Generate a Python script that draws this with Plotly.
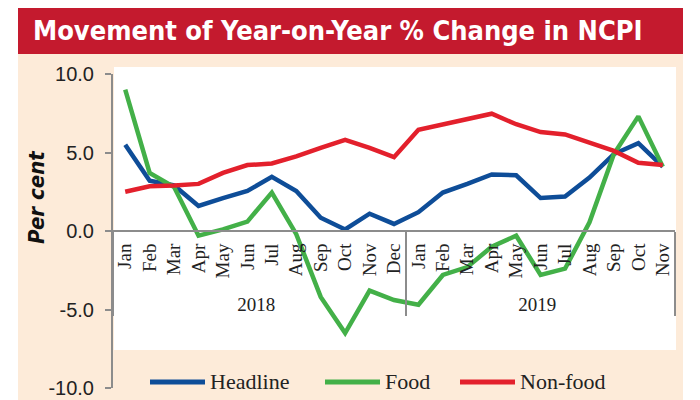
import plotly.graph_objects as go

years = ["2018"] * 12 + ["2019"] * 11
months = ["Jan", "Feb", "Mar", "Apr", "May", "Jun", "Jul", "Aug", "Sep", "Oct", "Nov", "Dec",
          "Jan", "Feb", "Mar", "Apr", "May", "Jun", "Jul", "Aug", "Sep", "Oct", "Nov"]

headline = [5.5, 3.2, 2.9, 1.6, 2.1, 2.55, 3.45, 2.55, 0.85, 0.1, 1.1, 0.45,
            1.2, 2.45, 3.0, 3.6, 3.55, 2.1, 2.2, 3.4, 4.9, 5.6, 4.1]
food = [9.0, 3.7, 2.8, -0.3, 0.1, 0.6, 2.45, -0.2, -4.2, -6.5, -3.8, -4.4,
        -4.7, -2.8, -2.3, -1.0, -0.3, -2.8, -2.4, 0.55, 4.9, 7.3, 4.1]
nonfood = [2.5, 2.85, 2.9, 3.0, 3.7, 4.2, 4.3, 4.75, 5.3, 5.8, 5.3, 4.7,
           6.45, 6.8, 7.1, 7.47, 6.8, 6.3, 6.15, 5.6, 5.1, 4.35, 4.2]

series_names = ["Headline", "Food", "Non-food"]

y_ticks = [10, 5, 0, -5, -10]
y_tick_labels = ["10.0", "5.0", "0.0", "-5.0", "-10.0"]

title_text = "Movement of Year-on-Year % Change in NCPI"
y_title = "Per cent"

BLUE = "#0e4d98"
GREEN = "#43b048"
RED = "#e3202c"
PEACH = "#fdebd9"
GRAY = "#8c8c8c"
colors = [BLUE, GREEN, RED]

x = [years, months]

fig = go.Figure()
for name, vals, col in zip(series_names, [headline, food, nonfood], colors):
    fig.add_trace(go.Scatter(x=x, y=vals, mode="lines", name=name,
                             line=dict(color=col, width=4.5), showlegend=False))

# page body has an 8px margin: figure is drawn from screen (8, 8)
OFF = 8
W, H = 700 - OFF, 400 - OFF
SL, SR, ST, SB = 113, 675, 74, 388  # plot area in screen pixels
L, R, T, B = SL - OFF, W - (SR - OFF), ST - OFF, H - (SB - OFF)
pw, ph = SR - SL, SB - ST


def px(xs):
    return (xs - SL) / pw


def py(ys):
    return (SB - ys) / ph


shapes = [
    dict(type="rect", xref="paper", yref="paper", x0=px(18), x1=px(683), y0=py(420), y1=py(53),
         fillcolor=PEACH, line=dict(width=0), layer="below"),
    dict(type="rect", xref="paper", yref="paper", x0=px(114), x1=px(676), y0=py(350), y1=py(67),
         fillcolor="white", line=dict(width=0), layer="below"),
    dict(type="rect", xref="paper", yref="paper", x0=px(18), x1=px(683), y0=py(54), y1=py(7),
         fillcolor="#c41a2e", line=dict(width=0), layer="below"),
]

annotations = [
    dict(text=title_text, xref="paper", yref="paper", x=px(31), y=py(31),
         xanchor="left", yanchor="middle", showarrow=False,
         font=dict(family="DejaVu Sans Condensed", size=27, color="white", weight="bold")),
    dict(text="<b><i>" + y_title + "</i></b>", xref="paper", yref="paper", x=px(36), y=py(197),
         xanchor="center", yanchor="middle", textangle=-90, showarrow=False,
         font=dict(family="DejaVu Sans Condensed", size=22, color="#111111")),
]

# legend drawn as line samples + labels
leg_line_x = [150, 325, 460]
for name, col, lx in zip(series_names, colors, leg_line_x):
    shapes.append(dict(type="line", xref="paper", yref="paper", x0=px(lx), x1=px(lx + 55),
                       y0=py(382), y1=py(382), line=dict(color=col, width=5)))
    annotations.append(dict(text=name, xref="paper", yref="paper", x=px(lx + 58), y=py(381),
                            xanchor="left", yanchor="middle", showarrow=False,
                            font=dict(family="Liberation Serif", size=22, color="#222222")))

fig.update_layout(
    width=W, height=H,
    margin=dict(l=L, r=R, t=T, b=B, autoexpand=False),
    paper_bgcolor="white",
    plot_bgcolor="rgba(0,0,0,0)",
    shapes=shapes,
    annotations=annotations,
    showlegend=False,
    xaxis=dict(type="multicategory", anchor="free", position=0.5,
               showline=True, linecolor=GRAY, linewidth=2,
               showgrid=False, ticks="", tickangle=-90,
               showdividers=True, dividercolor=GRAY, dividerwidth=2,
               ticklabelstandoff=4,
               tickfont=dict(family="Liberation Serif", size=19, color="#222222"),
               range=[-0.5, 22.5], automargin=False),
    yaxis=dict(range=[-10, 10], tickvals=y_ticks, ticktext=y_tick_labels,
               showline=True, linecolor=GRAY, linewidth=2, showgrid=False, zeroline=False,
               ticks="outside", ticklen=6, tickcolor=GRAY, tickwidth=2,
               ticklabelstandoff=7,
               tickfont=dict(family="Liberation Sans", size=20, color="#222222"),
               automargin=False),
)

fig.write_html("out.html")
